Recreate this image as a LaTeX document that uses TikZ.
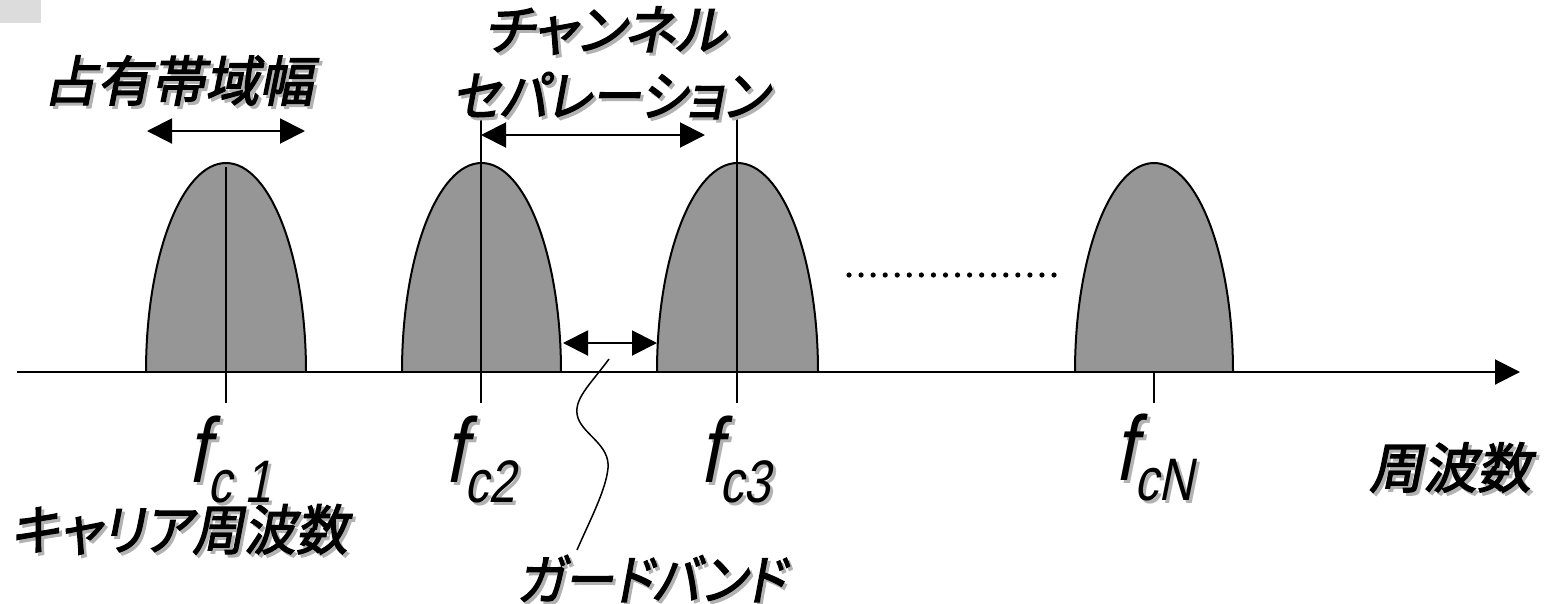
\documentclass[tikz,border=0pt]{standalone}
\usepackage{fontspec}
\newfontfamily\jp[FakeSlant=0.2,FakeBold=2.5,RawFeature=+palt]{Noto Sans CJK JP}
\newfontfamily\ffont[FakeSlant=0.2,FakeStretch=0.8]{Liberation Sans}
\usetikzlibrary{arrows.meta}
\definecolor{bumpgray}{HTML}{969696}
\definecolor{cornergray}{HTML}{DCDCDC}
% text with a grey drop shadow
\newcommand\shtxt[1]{\leavevmode\rlap{\kern3pt\raisebox{-3pt}{\color{black!30}#1}}#1}
\newcommand\jplbl[2][1]{\scalebox{#1}[1]{\jp\fontsize{54}{54}\selectfont\shtxt{#2}}}
\newcommand\fc[1]{{\ffont\fontsize{92}{92}\selectfont\shtxt{f}\raisebox{-20pt}{\fontsize{60}{60}\selectfont\shtxt{#1}}}}

\begin{document}
\begin{tikzpicture}[x=1pt,y=-1pt,line width=2pt,
    band/.style={draw=black,fill=bumpgray},
    dblarrow/.style={{Triangle[length=25pt,width=25pt]}-{Triangle[length=25pt,width=25pt]}},
    lbl/.style={inner sep=0pt}]
  \useasboundingbox (0,0) rectangle (1548,603);
  \fill[cornergray] (0,0) rectangle (41,23);
  % channels
  \foreach \cx/\hw in {226/80, 481.5/79.5, 737.5/80.5, 1154/79}
    \draw[band] ({\cx-\hw},372) arc[start angle=180,end angle=360,x radius=\hw,y radius=209];
  % frequency axis
  \coordinate (ax-s) at (17,372);
  \coordinate (ax-e) at (1520,372);
  \draw[-{Triangle[length=25pt,width=25pt]}] (ax-s) -- (ax-e);
  % carrier lines
  \draw (226,167) -- (226,403);
  \draw (481,120) -- (481,403);
  \draw (737,119) -- (737,403);
  \draw (1154,372) -- (1154,403);
  % dimension arrows
  \coordinate (ob-l) at (147,131);
  \coordinate (ob-r) at (305,131);
  \coordinate (cs-l) at (481,135);
  \coordinate (cs-r) at (705,135);
  \coordinate (gb-l) at (563,343);
  \coordinate (gb-r) at (657,343);
  \draw[dblarrow] (ob-l) -- (ob-r);
  \draw[dblarrow] (cs-l) -- (cs-r);
  \draw[dblarrow] (gb-l) -- (gb-r);
  % dots
  \foreach \i in {0,...,17}
    \fill ({849+\i*12.06},275) circle (2.6);
  % labels
  \node[lbl] (occ) at (178,82) {\jplbl{占有帯域幅}};
  \node[lbl] (ch1) at (605,32) {\jplbl{チャンネル}};
  \node[lbl] (ch2) at (610,97) {\jplbl[0.93]{セパレーション}};
  \node[lbl] (carrier) at (179,531) {\jplbl[0.96]{キャリア周波数}};
  \node[lbl] (freq) at (1450,469) {\jplbl{周波数}};
  \node[lbl] (guard) at (651,580) {\jplbl[0.92]{ガードバンド}};
  \node[lbl,anchor=base west] (f1) at (186,482) {\fc{c 1}};
  \node[lbl,anchor=base west] (f2) at (443,482) {\fc{c2}};
  \node[lbl,anchor=base west] (f3) at (698,482) {\fc{c3}};
  \node[lbl,anchor=base west] (fN) at (1113,480) {\fc{cN}};
  % leader to guard band label
  \coordinate (gb-top) at (609,359);
  \coordinate (gb-end) at (577,550);
  \draw[line width=1.5pt] (gb-top) .. controls (590,385) and (572,400) .. (578,418)
    .. controls (584,435) and (610,445) .. (608,468)
    .. controls (606,490) and (590,520) .. (gb-end);
\end{tikzpicture}
\end{document}
